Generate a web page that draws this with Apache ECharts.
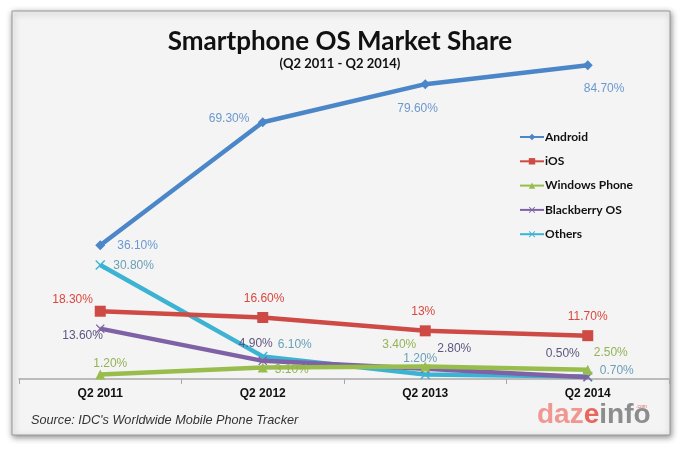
<!DOCTYPE html>
<html>
<head>
<meta charset="UTF-8">
<title>Smartphone OS Market Share</title>
<script src="https://cdn.jsdelivr.net/npm/echarts@6/dist/echarts.min.js"></script>
<style>
  body { margin: 0; background: #fff; }
  #chart { width: 680px; height: 451px; }
</style>
</head>
<body>
<div id="chart"></div>
<script>
// data
var quarters = ["Q2 2011", "Q2 2012", "Q2 2013", "Q2 2014"];
var seriesNames = ["Android", "iOS", "Windows Phone", "Blackberry OS", "Others"];
var android = [36.1, 69.3, 79.6, 84.7];
var ios = [18.3, 16.6, 13, 11.7];
var windowsPhone = [1.2, 3.1, 3.4, 2.5];
var blackberry = [13.6, 4.9, 2.8, 0.5];
var others = [30.8, 6.1, 1.2, 0.7];
var valueLabels = {
    "Android": ["36.10%", "69.30%", "79.60%", "84.70%"],
    "iOS": ["18.30%", "16.60%", "13%", "11.70%"],
    "Windows Phone": ["1.20%", "3.10%", "3.40%", "2.50%"],
    "Blackberry OS": ["13.60%", "4.90%", "2.80%", "0.50%"],
    "Others": ["30.80%", "6.10%", "1.20%", "0.70%"]
};

// label offset from its point: [left edge dx, centre dy] (styling only)
var labelPlace = {
    "Android": [[17, 0], [-54, -4], [-28, 25], [-4, 23]],
    "iOS": [[-48, -12], [-19, -19], [-14, -19], [-20, -19]],
    "Windows Phone": [[-7, -11], [12, 2], [-43, -22], [6, -17]],
    "Blackberry OS": [[-38, 7], [-24, -17], [12, -20], [-42, -23]],
    "Others": [[13, 1], [15, -12], [-22, -16], [12, -6]]
};

var lineColors = ["#4a86c8", "#cd4b44", "#98bd4c", "#7f62a6", "#3cb3d3"];
var labelColors = ["#6b98cf", "#d9473f", "#93b356", "#5f5680", "#6aa0b6"];
var xSymbol = "path://M0,1L1,0L5,4L9,0L10,1L6,5L10,9L9,10L5,6L1,10L0,9L4,5Z";
var symbols = ["diamond", "rect", "triangle", xSymbol, xSymbol];
var symbolSizes = [10, 11, 10, 9, 10];

function buildSeries(name, idx, values) {
    var s = symbolSizes[idx];
    var data = values.map(function (v, i) {
        var p = labelPlace[name][i];
        return {
            value: v,
            label: {
                show: true,
                position: [p[0] + s / 2, p[1] + s / 2 - 6],
                align: "left",
                formatter: valueLabels[name][i]
            }
        };
    });
    return {
        name: name,
        type: "line",
        data: data,
        symbol: symbols[idx],
        symbolSize: s,
        showAllSymbol: true,
        z: 10 - idx,
        lineStyle: { width: 4.5, color: lineColors[idx] },
        itemStyle: { color: lineColors[idx] },
        label: {
            color: labelColors[idx],
            fontFamily: "Liberation Sans",
            fontSize: 12
        },
        emphasis: { disabled: true }
    };
}

var chart = echarts.init(document.getElementById("chart"));

var option = {
    animation: false,
    backgroundColor: "#ffffff",
    grid: { left: 19, right: 11, top: 8.6, bottom: 72 },
    title: [{
        text: "Smartphone OS Market Share",
        subtext: "(Q2 2011 - Q2 2014)",
        left: "center",
        top: 24,
        itemGap: 2,
        textStyle: { fontFamily: "Lato", fontWeight: "bold", fontSize: 26, color: "#111" },
        subtextStyle: { fontFamily: "Lato", fontWeight: "bold", fontSize: 13, color: "#111" }
    }],
    legend: {
        data: seriesNames,
        orient: "vertical",
        left: 514,
        top: 126,
        itemWidth: 24,
        itemHeight: 8,
        itemGap: 12.3,
        textStyle: { fontFamily: "Lato", fontWeight: "bold", fontSize: 12, color: "#111", padding: [0, 0, 0, -4] }
    },
    xAxis: {
        type: "category",
        data: quarters,
        boundaryGap: true,
        axisLine: { lineStyle: { color: "#a8a8a8", width: 1.5 } },
        axisTick: { show: true, length: 5, lineStyle: { color: "#a8a8a8" } },
        axisLabel: { fontFamily: "Liberation Sans", fontWeight: "bold", fontSize: 12, color: "#111", margin: 9 }
    },
    yAxis: {
        type: "value",
        min: 0,
        max: 100,
        show: false,
        splitLine: { show: false }
    },
    series: [
        buildSeries("Android", 0, android),
        buildSeries("iOS", 1, ios),
        buildSeries("Windows Phone", 2, windowsPhone),
        buildSeries("Blackberry OS", 3, blackberry),
        buildSeries("Others", 4, others)
    ],
    graphic: [
        {
            type: "rect",
            z: -10,
            silent: true,
            shape: { x: 12, y: 11, width: 658, height: 424 },
            style: {
                fill: "#f4f4f4",
                stroke: "#9a9a9a",
                lineWidth: 1,
                shadowBlur: 6,
                shadowOffsetX: 1,
                shadowOffsetY: 2,
                shadowColor: "rgba(0,0,0,0.45)"
            }
        },
        {
            type: "text",
            left: 31,
            top: 414,
            style: {
                text: "Source: IDC's Worldwide Mobile Phone Tracker",
                fontFamily: "Liberation Sans",
                fontStyle: "italic",
                fontSize: 12.7,
                fill: "#333"
            }
        },
        {
            type: "text",
            left: 537,
            top: 401,
            style: {
                text: "{a|daz}{b|e}{c|info}",
                rich: {
                    a: { fontFamily: "Liberation Sans", fontWeight: "bold", fontSize: 28, fill: "#ef9790" },
                    b: { fontFamily: "Liberation Sans", fontWeight: "bold", fontSize: 28, fill: "#e8665c" },
                    c: { fontFamily: "Liberation Sans", fontWeight: "bold", fontSize: 28, fill: "#8d8d8d" }
                }
            }
        },
        {
            type: "text",
            left: 636,
            top: 404,
            style: { text: ".com", fontFamily: "Liberation Sans", fontSize: 5, fill: "#e8665c" }
        }
    ]
};

chart.setOption(option);
</script>
</body>
</html>
